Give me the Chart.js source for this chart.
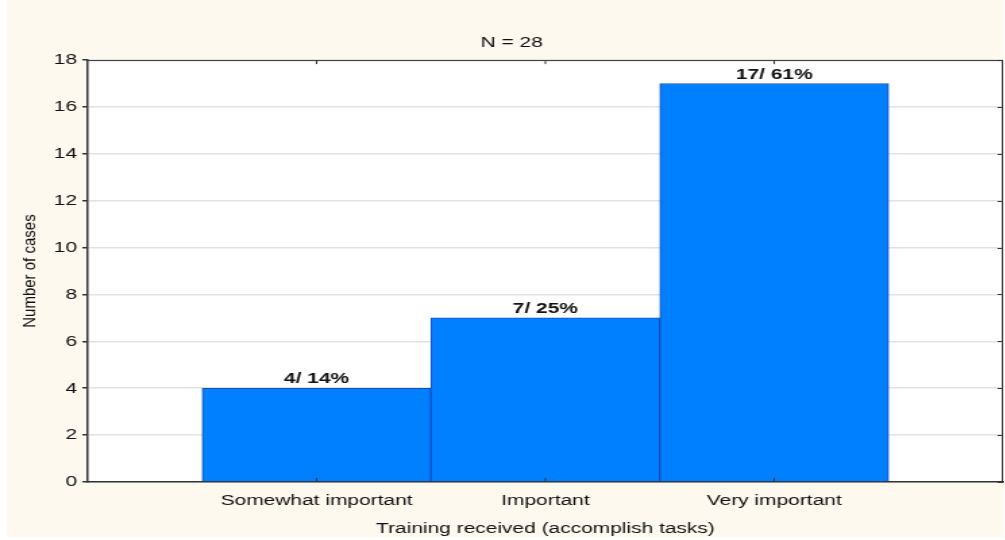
<!DOCTYPE html>
<html>
<head>
<meta charset="utf-8">
<script src="https://cdn.jsdelivr.net/npm/chart.js@4.4.0/dist/chart.umd.min.js"></script>
<style>
  html, body { margin: 0; padding: 0; background: #ffffff; overflow: hidden; }
  /* o original é uma imagem esticada na horizontal */
  #wrap { width: 744px; height: 540px; transform: scaleX(1.35); transform-origin: 0 0; }
</style>
</head>
<body>
<div id="wrap"><canvas id="grafico" width="744" height="540"></canvas></div>
<script>
var ESTICA = 1.35;

// categorias (slots vazios nas pontas, como no original)
var categorias = ['', 'Somewhat important', 'Important', 'Very important', ''];
var casos = [null, 4, 7, 17, null];
var rotulos = ['', '4/ 14%', '7/ 25%', '17/ 61%', ''];
var ticksY = [0, 2, 4, 6, 8, 10, 12, 14, 16, 18];

var fonte = "'Liberation Sans', Arial, sans-serif";

// fundo creme + area do grafico branca
const fundo = {
    id: 'fundo',
    beforeDraw(chart) {
        const ctx = chart.ctx;
        const a = chart.chartArea;
        ctx.save();
        ctx.fillStyle = '#fdf9ee';
        ctx.fillRect(7 / ESTICA, 0, chart.width, 537);
        ctx.fillStyle = '#ffffff';
        ctx.fillRect(a.left, a.top, a.right - a.left, a.bottom - a.top);
        ctx.restore();
    }
};

// moldura e marcas internas (direita, topo e base)
const moldura = {
    id: 'moldura',
    afterDatasetsDraw(chart) {
        const ctx = chart.ctx;
        const a = chart.chartArea;
        const y = chart.scales.y;
        const x = chart.scales.x;
        ctx.save();
        ctx.strokeStyle = '#333';
        ctx.lineWidth = 1;
        ctx.beginPath();
        ctx.moveTo(a.left, a.top + 0.5);
        ctx.lineTo(a.right - 0.5, a.top + 0.5);
        ctx.lineTo(a.right - 0.5, a.bottom);
        ctx.stroke();
        ctx.beginPath();
        ticksY.forEach(function (v) {
            const py = Math.round(y.getPixelForValue(v)) + 0.5;
            ctx.moveTo(a.right, py);
            ctx.lineTo(a.right - 4, py);
        });
        for (let i = 1; i <= 3; i++) {
            const px = x.getPixelForValue(i);
            ctx.moveTo(px, a.top);
            ctx.lineTo(px, a.top + 4);
            ctx.moveTo(px, a.bottom);
            ctx.lineTo(px, a.bottom - 4);
        }
        ctx.stroke();
        ctx.restore();
    }
};

// texto "n/ %" acima das barras + titulo do eixo y (sem esticar)
const textos = {
    id: 'textos',
    afterDraw(chart) {
        const ctx = chart.ctx;
        const a = chart.chartArea;
        const meta = chart.getDatasetMeta(0);
        ctx.save();
        ctx.font = 'bold 15.5px ' + fonte;
        ctx.fillStyle = '#111';
        ctx.textAlign = 'center';
        ctx.textBaseline = 'alphabetic';
        meta.data.forEach(function (bar, i) {
            if (casos[i] == null) return;
            ctx.fillText(rotulos[i], bar.x, bar.y - 5);
        });
        ctx.restore();

        ctx.save();
        ctx.font = '15px ' + fonte;
        ctx.fillStyle = '#111';
        ctx.textAlign = 'center';
        ctx.textBaseline = 'middle';
        ctx.translate(30 / ESTICA, (a.top + a.bottom) / 2);
        ctx.scale(1.1 / ESTICA, 1);
        ctx.rotate(-Math.PI / 2);
        ctx.fillText('Number of cases', 0, 0);
        ctx.restore();
    }
};

new Chart(document.getElementById('grafico'), {
    type: 'bar',
    data: {
        labels: categorias,
        datasets: [
            {
                label: 'Number of cases',
                data: casos,
                backgroundColor: '#0080ff',
                borderColor: '#1a4cc4',
                borderWidth: 1,
                barPercentage: 1,
                categoryPercentage: 1
            }
        ]
    },
    options: {
        responsive: false,
        animation: false,
        layout: { padding: { left: 15, right: 1, top: 0, bottom: 0 } },
        plugins: {
            legend: { display: false },
            tooltip: { enabled: false },
            title: {
                display: true,
                text: 'N = 28',
                color: '#111',
                font: { family: fonte, size: 15.5, weight: 'normal' },
                padding: { top: 33, bottom: 8.5 }
            }
        },
        scales: {
            x: {
                offset: false,
                grid: { display: false, drawTicks: false },
                border: { display: true, color: '#333', width: 1.5 },
                ticks: {
                    color: '#111',
                    padding: 9,
                    maxRotation: 0,
                    autoSkip: false,
                    font: { family: fonte, size: 15.5 }
                },
                title: {
                    display: true,
                    text: 'Training received (accomplish tasks)',
                    color: '#111',
                    font: { family: fonte, size: 15.5 },
                    padding: { top: 4, bottom: 2 }
                },
                afterFit: function (scale) {
                    scale.height = 58;
                    scale.paddingLeft = 0;
                    scale.paddingRight = 0;
                }
            },
            y: {
                min: 0,
                max: 18,
                afterBuildTicks: function (scale) {
                    scale.ticks = ticksY.map(function (v) { return { value: v }; });
                },
                grid: {
                    color: '#e2e2e2',
                    lineWidth: 1.5,
                    tickColor: '#333',
                    tickLength: 4,
                    drawTicks: true
                },
                border: { display: true, color: '#333', width: 1.5 },
                ticks: {
                    color: '#111',
                    padding: 4,
                    font: { family: fonte, size: 15.5 }
                },
                title: { display: false },
                afterFit: function (scale) { scale.width = 65 - 15; }
            }
        }
    },
    plugins: [fundo, moldura, textos]
});
</script>
</body>
</html>
